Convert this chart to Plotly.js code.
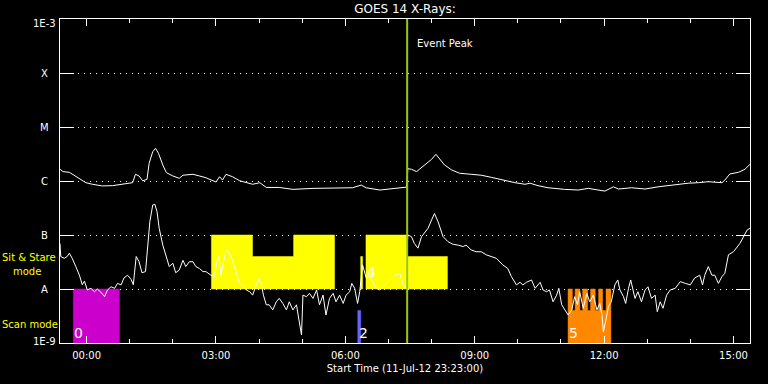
<!DOCTYPE html>
<html><head><meta charset="utf-8">
<script src="https://cdn.plot.ly/plotly-3.0.1.min.js"></script>
<style>html,body{margin:0;padding:0;background:#000;}#chart{width:768px;height:384px;}</style>
</head><body><div id="chart"></div>
<script>
// ---- data ----
const startTime = "2012-07-11 23:23";
const endTime = "2012-07-12 15:23";
const peakTime = "07:26";

const longTimes = ["23:23","23:27","23:36","23:40","23:50","23:59","00:08","00:22","00:36","00:55",
"01:04","01:08","01:13","01:18","01:24","01:27","01:32","01:36","01:40","01:46",
"01:51","02:00","02:09","02:14","02:28","02:37","02:46","02:56","03:00","03:05",
"03:09","03:14","03:23","03:33","03:42","03:51","04:01","04:10","04:28","04:47",
"05:15","05:43","06:10","06:22","06:29","06:48","07:06","07:20","07:25","07:27",
"07:32","07:39","07:43","07:53","08:00","08:06","08:11","08:18","08:28","08:39",
"08:55","09:09","09:23","09:42","09:56","10:10","10:17","10:28","10:42","11:05",
"11:24","11:38","12:01","12:13","12:20","12:38","12:57","13:15","13:34","13:57",
"14:11","14:25","14:44","14:48","14:55","15:07","15:16","15:23"];
const longFlux = [1.65e-6,1.49e-6,1.45e-6,1.35e-6,1.12e-6,9.3e-7,8.7e-7,8.1e-7,8.2e-7,9.1e-7,
9.3e-7,1.33e-6,1.24e-6,1.01e-6,1.07e-6,2.13e-6,3.49e-6,4.03e-6,3.26e-6,1.98e-6,
1.43e-6,1.24e-6,1.12e-6,1.28e-6,1.33e-6,1.24e-6,1.15e-6,1.01e-6,9.6e-7,1.20e-6,
1.04e-6,1.33e-6,1.20e-6,1.01e-6,9.3e-7,8.7e-7,9.3e-7,7.6e-7,7.6e-7,7.0e-7,
7.3e-7,7.3e-7,7.5e-7,8.4e-7,7.5e-7,6.8e-7,7.3e-7,7.5e-7,7.7e-7,1.69e-6,
1.65e-6,1.49e-6,1.65e-6,2.06e-6,2.52e-6,3.12e-6,2.63e-6,1.98e-6,1.60e-6,1.39e-6,
1.33e-6,1.28e-6,1.17e-6,1.01e-6,9.3e-7,8.7e-7,9.1e-7,8.2e-7,7.5e-7,7.0e-7,
6.8e-7,7.3e-7,6.5e-7,7.8e-7,7.1e-7,7.5e-7,7.1e-7,7.8e-7,8.4e-7,9.1e-7,
9.3e-7,9.7e-7,9.3e-7,1.04e-6,1.35e-6,1.45e-6,1.65e-6,2.04e-6];

const shortTimes = ["23:23","23:24","23:29","23:33","23:36","23:40","23:45","23:50","23:54","23:57",
"00:01","00:06","00:11","00:15","00:20","00:25","00:29","00:34","00:39","00:43",
"00:48","00:52","00:57","01:02","01:05","01:09","01:13","01:17","01:22","01:25",
"01:28","01:32","01:35","01:38","01:41","01:46","01:51","01:55","02:00","02:04",
"02:09","02:14","02:18","02:23","02:28","02:32","02:37","02:42","02:46","02:53",
"02:58","03:01","03:04","03:07","03:09","03:14","03:19","03:23","03:28","03:33",
"03:37","03:42","03:47","03:51","03:56","04:00","04:03","04:06","04:10","04:14",
"04:19","04:24","04:28","04:33","04:38","04:42","04:47","04:52","04:55","04:59",
"05:01","05:06","05:10","05:15","05:20","05:24","05:29","05:33","05:38","05:43",
"05:47","05:52","05:57","06:01","06:06","06:09","06:13","06:17","06:20","06:22",
"06:24","06:29","06:34","06:38","06:43","06:48","06:55","07:02","07:09","07:16",
"07:20","07:24","07:25","07:27","07:32","07:36","07:41","07:46","07:50","07:55",
"08:00","08:04","08:09","08:16","08:23","08:30","08:37","08:44","08:48","08:55",
"09:02","09:09","09:16","09:23","09:30","09:39","09:46","09:51","09:58","10:03",
"10:07","10:12","10:19","10:24","10:31","10:35","10:40","10:44","10:49","10:54",
"10:57","11:01","11:05","11:10","11:15","11:19","11:23","11:26","11:31","11:36",
"11:40","11:45","11:50","11:54","11:57","11:59","12:03","12:06","12:10","12:15",
"12:19","12:22","12:27","12:30","12:34","12:37","12:43","12:47","12:52","12:57",
"13:01","13:06","13:11","13:14","13:18","13:22","13:27","13:32","13:39","13:46",
"13:53","14:00","14:06","14:13","14:17","14:20","14:25","14:30","14:34","14:39",
"14:44","14:48","14:53","15:00","15:09","15:14","15:19","15:23"];
const shortFlux = [7.0e-8,4.0e-8,3.7e-8,4.0e-8,4.6e-8,3.7e-8,2.6e-8,1.8e-8,1.2e-8,1.4e-8,
9.6e-9,1.03e-8,8.9e-9,1.0e-8,8.7e-9,7.2e-9,9.6e-9,1.1e-8,1.03e-8,1.27e-8,
1.19e-8,1.6e-8,1.8e-8,1.5e-8,1.2e-8,4.0e-8,3.2e-8,2.0e-8,2.1e-8,5.7e-8,
1.76e-7,3.6e-7,3.7e-7,2.7e-7,1.33e-7,6.5e-8,3.7e-8,2.6e-8,3.0e-8,2.0e-8,
2.25e-8,3.4e-8,2.6e-8,3.2e-8,3.2e-8,2.6e-8,2.4e-8,2.1e-8,2.1e-8,1.8e-8,
1.7e-8,3.2e-8,4.0e-8,1.8e-8,2.6e-8,5.3e-8,4.6e-8,3.4e-8,2.1e-8,1.27e-8,
1.19e-8,9.6e-9,8.9e-9,7.7e-9,1.19e-8,1.6e-8,1.27e-8,7.7e-9,5.1e-9,5.1e-9,
4.1e-9,5.8e-9,6.7e-9,5.4e-9,4.1e-9,5.8e-9,4.1e-9,5.1e-9,2.9e-9,1.41e-9,
7.7e-9,7.2e-9,8.3e-9,6.7e-9,9.6e-9,5.1e-9,7.7e-9,3.3e-9,6.7e-9,8.3e-9,
5.8e-9,7.7e-9,5.4e-9,7.7e-9,8.9e-9,1.27e-8,1.03e-8,5.4e-9,8.9e-9,1.8e-8,
2.8e-8,1.6e-8,1.8e-8,1.37e-8,1.03e-8,9.6e-9,1.19e-8,1.47e-8,1.8e-8,1.95e-8,
1.27e-8,1.03e-8,4.0e-8,1.0e-7,9.3e-8,7.0e-8,5.7e-8,9.3e-8,1.07e-7,1.33e-7,
1.9e-7,2.5e-7,1.76e-7,9.3e-8,7.5e-8,6.7e-8,6.5e-8,6.1e-8,6.5e-8,5.3e-8,
4.9e-8,4.9e-8,4.3e-8,4.0e-8,3.7e-8,2.8e-8,2.4e-8,1.7e-8,1.19e-8,1.33e-8,
1.19e-8,1.33e-8,1.47e-8,1.03e-8,1.33e-8,9.6e-9,8.9e-9,9.6e-9,5.8e-9,7.7e-9,
1.03e-8,5.1e-9,4.1e-9,3.3e-9,4.1e-9,7.2e-9,5.1e-9,8.9e-9,4.4e-9,8.3e-9,
5.8e-9,7.7e-9,4.1e-9,5.4e-9,3.3e-9,1.6e-9,2.9e-9,4.7e-9,5.8e-9,1.19e-8,
1.47e-8,9.6e-9,7.2e-9,5.4e-9,1.03e-8,1.47e-8,6.7e-9,8.9e-9,5.8e-9,9.6e-9,
1.1e-8,6.7e-9,7.7e-9,3.8e-9,5.8e-9,4.4e-9,7.7e-9,9.6e-9,1.03e-8,1.37e-8,
1.27e-8,1.19e-8,1.6e-8,1.8e-8,1.19e-8,1.8e-8,2.6e-8,1.8e-8,1.8e-8,1.27e-8,
1.7e-8,1.95e-8,4.3e-8,4.9e-8,7.0e-8,9.3e-8,1.24e-7,1.33e-7];

// observation blocks: start, end, top level, base level, mode
const segStart = ["23:41:30","02:53:40","03:50:50","04:48:00","06:21:20","06:28:40","07:26:20","06:17:20",
"11:09:50","11:15:50","11:19:40","11:26:20","11:30:10","11:37:10","11:41:10","11:47:40","11:52:20","11:58:00","12:02:40"];
const segEnd = ["00:45:36","03:50:50","04:48:00","05:45:00","06:24:00","07:26:20","08:22:00","06:21:30",
"11:15:50","11:19:40","11:26:20","11:30:10","11:37:10","11:41:10","11:47:40","11:52:20","11:58:00","12:02:40","12:09:30"];
const segTop = [1e-8,1e-7,4e-8,1e-7,4e-8,1e-7,4e-8,4e-9,
1e-8,4e-9,1e-8,4e-9,1e-8,4e-9,1e-8,4e-9,1e-8,4e-9,1e-8];
const segBase = [1e-9,1e-8,1e-8,1e-8,1e-8,1e-8,1e-8,1e-9,
1e-9,1e-9,1e-9,1e-9,1e-9,1e-9,1e-9,1e-9,1e-9,1e-9,1e-9];
const segMode = ["0","sit","sit","sit","sit","sit","sit","2","5","5","5","5","5","5","5","5","5","5","5"];

const blockLabels = ["0","2","4","5"];
const blockLabelTimes = ["23:41:30","06:17:20","06:28:40","11:09:50"];
const blockLabelFlux = [1.56e-9,1.56e-9,2.1e-8,1.56e-9];

const xTickTimes = ["00:00","03:00","06:00","09:00","12:00","15:00"];
const yTickVals = [1e-9,1e-8,1e-7,1e-6,1e-5,1e-4,1e-3];
const yTickText = ["1E-9","A","B","C","M","X","1E-3"];

// ---- styles ----
const modeColor = {"0":"#cc00cc","sit":"#ffff00","2":"#6464ff","5":"#ff8800"};
function ts(hm){ const h = parseInt(hm,10); return (h >= 20 ? "2012-07-11 " : "2012-07-12 ") + hm; }
function pxX(px){ return (px-60)/690; }
function pxY(py){ return 1-(py-19)/324; }

// merge contiguous segments of same mode into one stepped polygon
const groups = [];
for (let i=0;i<segStart.length;i++){
  const g = groups[groups.length-1];
  if (g && g.mode===segMode[i] && g.end===segEnd[i-1] && segEnd[i-1]===segStart[i] && g.base===segBase[i]) {
    g.idx.push(i); g.end = segEnd[i];
  } else {
    groups.push({mode:segMode[i],idx:[i],end:segEnd[i],base:segBase[i]});
  }
}
const traces = [];
groups.forEach(g=>{
  const xs=[], ys=[];
  const first=g.idx[0];
  xs.push(ts(segStart[first])); ys.push(segBase[first]);
  g.idx.forEach(i=>{ xs.push(ts(segStart[i])); ys.push(segTop[i]); xs.push(ts(segEnd[i])); ys.push(segTop[i]); });
  const last=g.idx[g.idx.length-1];
  xs.push(ts(segEnd[last])); ys.push(segBase[last]);
  xs.push(ts(segStart[first])); ys.push(segBase[first]);
  traces.push({type:'scatter',mode:'lines',x:xs,y:ys,fill:'toself',fillcolor:modeColor[g.mode],
    line:{width:0.5,color:modeColor[g.mode]},hoverinfo:'skip'});
});
traces.push({type:'scatter',mode:'lines',x:longTimes.map(ts),y:longFlux,line:{color:'#ffffff',width:1}});
traces.push({type:'scatter',mode:'lines',x:shortTimes.map(ts),y:shortFlux,line:{color:'#ffffff',width:1}});
traces.push({type:'scatter',mode:'lines',x:[ts(peakTime),ts(peakTime)],y:[1e-9,1e-3],line:{color:'#a0c800',width:2}});

const annotations = [];
const yShift = [2,0,0,0,0,0,-4];
yTickVals.forEach((v,i)=>annotations.push({xref:'paper',yref:'y',x:pxX(44.5),y:Math.log10(v),text:yTickText[i],
  showarrow:false,xanchor:'center',yanchor:'middle',yshift:yShift[i],font:{size:10,color:'#ffffff'}}));
annotations.push({xref:'paper',yref:'paper',x:pxX(0),y:pxY(257.5),text:'Sit & Stare',showarrow:false,xanchor:'left',yanchor:'middle',font:{size:10,color:'#ffff00'}});
annotations.push({xref:'paper',yref:'paper',x:pxX(11),y:pxY(271),text:'mode',showarrow:false,xanchor:'left',yanchor:'middle',font:{size:10,color:'#ffff00'}});
annotations.push({xref:'paper',yref:'paper',x:pxX(0),y:pxY(324),text:'Scan mode',showarrow:false,xanchor:'left',yanchor:'middle',font:{size:10,color:'#ffff00'}});
annotations.push({xref:'x',yref:'paper',x:ts(peakTime),y:pxY(43),text:'Event Peak',showarrow:false,xanchor:'left',yanchor:'middle',xshift:8,font:{size:10,color:'#ffffff'}});
blockLabels.forEach((t,i)=>annotations.push({xref:'x',yref:'y',x:ts(blockLabelTimes[i]),y:Math.log10(blockLabelFlux[i]),text:t,
  showarrow:false,xanchor:'left',yanchor:'middle',xshift:-1,font:{size:14,color:'#ffffff'}}));

const layout = {
  width:768,height:384,
  paper_bgcolor:'#000000',plot_bgcolor:'#000000',
  margin:{l:60,r:18,t:19,b:41},
  showlegend:false,
  font:{family:'DejaVu Sans',color:'#ffffff',size:10},
  title:{text:'GOES 14 X-Rays:',x:0.5,xref:'paper',xanchor:'center',y:1-9/384,yref:'container',yanchor:'middle',font:{size:12,color:'#ffffff'}},
  xaxis:{type:'date',range:[startTime,endTime],tickmode:'array',tickvals:xTickTimes.map(ts),ticktext:xTickTimes,
    ticks:'inside',ticklen:7,tickwidth:1,tickcolor:'#ffffff',showline:true,linecolor:'#ffffff',linewidth:1,mirror:'ticks',
    showgrid:false,zeroline:false,tickfont:{size:10,color:'#ffffff'},ticklabelstandoff:3,
    minor:{tickmode:'linear',tick0:'2012-07-12 00:00',dtick:3600000,ticks:'inside',ticklen:4,tickcolor:'#ffffff',tickwidth:1,showgrid:false},
    title:{text:'Start Time (11-Jul-12 23:23:00)',font:{size:10,color:'#ffffff'},standoff:4}},
  yaxis:{type:'log',range:[-9,-3],tickmode:'array',tickvals:yTickVals,showticklabels:false,
    ticks:'inside',ticklen:14,tickwidth:1,tickcolor:'#ffffff',showline:true,linecolor:'#ffffff',linewidth:1,mirror:'ticks',
    showgrid:true,gridcolor:'#ffffff',gridwidth:1,griddash:'1px,5px',zeroline:false},
  annotations:annotations
};
Plotly.newPlot('chart',traces,layout,{staticPlot:true,displayModeBar:false});
</script>
</body></html>
